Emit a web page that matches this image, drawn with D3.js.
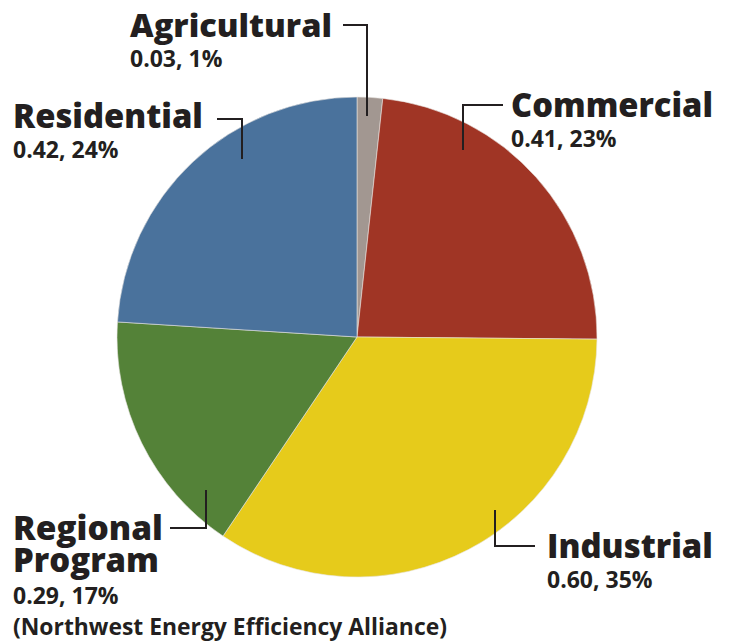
<!DOCTYPE html>
<html>
<head>
<meta charset="utf-8">
<script src="https://cdn.jsdelivr.net/npm/d3@7"></script>
<style>
  html, body { margin: 0; padding: 0; background: #fff; }
  svg { display: block; }
  text { font-family: "Open Sans", "DejaVu Sans", sans-serif; fill: #231f20; }
</style>
</head>
<body>
<svg id="chart" width="730" height="642"></svg>
<script>
// ---- data ----
const categories = ["Agricultural", "Commercial", "Industrial", "Regional Program", "Residential"];
const values = [0.03, 0.41, 0.60, 0.29, 0.42];
const percents = ["1%", "23%", "35%", "17%", "24%"];
const valueLabels = ["0.03", "0.41", "0.60", "0.29", "0.42"];
const colors = ["#a29791", "#a03525", "#e6cb1b", "#548238", "#4a729c"];

// ---- layout (label placement per category) ----
const labelLayout = [
  { name: ["Agricultural"], x: 130, y: 37, sub: [], line: [[343,25],[367,25],[367,116]] },
  { name: ["Commercial"], x: 511, y: 117, sub: [], line: [[503,105],[463,105],[463,150]] },
  { name: ["Industrial"], x: 547, y: 558, sub: [], line: [[535,546],[495,546],[495,510]] },
  { name: ["Regional", "Program"], x: 13, y: 540, sub: ["(Northwest Energy Efficiency Alliance)"], line: [[170,528],[206,528],[206,490]] },
  { name: ["Residential"], x: 13, y: 128, sub: [], line: [[217,119],[242,119],[242,159]] }
];
const nameWidths = { "Agricultural": 202, "Commercial": 202, "Industrial": 166, "Regional": 150, "Program": 146, "Residential": 190 };
const valueWidths = [96, 112, 110, 109, 111];

const svg = d3.select("#chart");
const cx = 357, cy = 337, r = 240;

const pie = d3.pie().sort(null).value(d => d.v);
const arc = d3.arc().innerRadius(0).outerRadius(r);
const data = categories.map((c, i) => ({ c, v: values[i], color: colors[i] }));

const g = svg.append("g").attr("transform", `translate(${cx},${cy})`);
g.selectAll("path").data(pie(data)).join("path")
  .attr("d", arc)
  .attr("fill", d => d.data.color)
  .attr("stroke", "#e8e4e0")
  .attr("stroke-width", 0.6);

// leader lines
const line = d3.line();
svg.selectAll("path.leader").data(labelLayout).join("path")
  .attr("class", "leader")
  .attr("d", d => line(d.line))
  .attr("fill", "none")
  .attr("stroke", "#231f20")
  .attr("stroke-width", 2);

// fit tspan font-size to a target width
function fitText(t, target, base, maxSize) {
  t.attr("font-size", base);
  const w = t.node().getComputedTextLength();
  const s = w > 0 ? Math.min(maxSize, base * target / w) : base;
  t.attr("font-size", s.toFixed(2));
}

// labels: one text element per category, lines as tspans
labelLayout.forEach((L, i) => {
  const text = svg.append("text").attr("class", "label");
  let y = L.y;
  L.name.forEach((n) => {
    const t = text.append("tspan")
      .attr("x", L.x).attr("y", y)
      .attr("font-weight", 800)
      .text(n);
    fitText(t, nameWidths[n], 33, 35);
    y += 32;
  });
  const vy = L.y + (L.name.length - 1) * 32 + (i === 3 ? 32 : 30);
  const vt = text.append("tspan")
    .attr("x", L.x).attr("y", vy)
    .attr("font-weight", 700)
    .text(valueLabels[i] + ", " + percents[i]);
  fitText(vt, valueWidths[i], 21, 23);
  L.sub.forEach((s) => {
    const st = text.append("tspan")
      .attr("x", L.x).attr("y", vy + 31)
      .attr("font-weight", 700)
      .text(s);
    fitText(st, 434, 21, 23);
  });
});
</script>
</body>
</html>
